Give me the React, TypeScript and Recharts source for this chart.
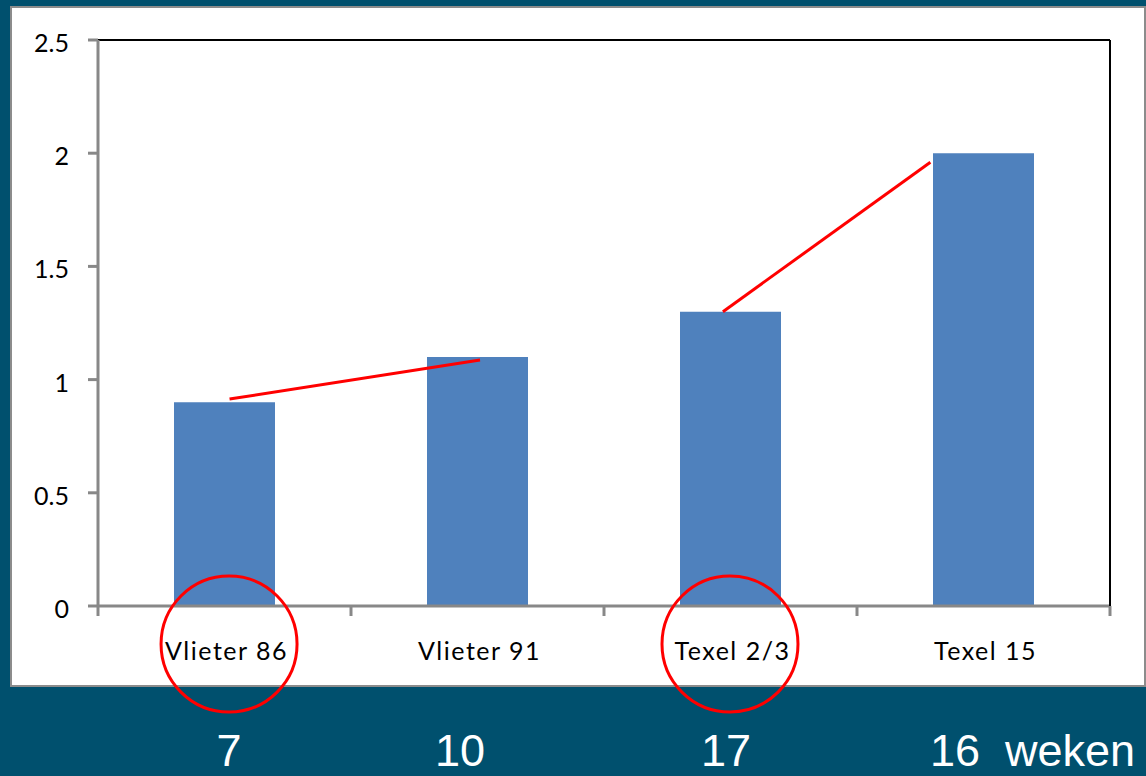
import React from "react"
import { BarChart, Bar, XAxis, YAxis, ReferenceLine, ReferenceDot } from "recharts"

// data
const categories = ["Vlieter 86", "Vlieter 91", "Texel 2/3", "Texel 15"]
const values = [0.9, 1.1, 1.3, 2.0]
const yTicks = [0, 0.5, 1, 1.5, 2, 2.5]
const boundaryTicks = [0, 1, 2, 3, 4]
const weeks = ["7", "10", "17", "16"]
const weekUnit = "weken"

// hand-drawn red annotations (x in category units, y in data units)
const trendSegments = [
  [{ x: 0.52, y: 0.914 }, { x: 1.51, y: 1.087 }],
  [{ x: 2.47, y: 1.3 }, { x: 3.29, y: 1.96 }],
]
const circleCentersX = [0.518, 2.498]
const circleCenterY = -0.168

const data = categories.map((name, i) => ({ name, value: values[i] }))

const W = 1146
const H = 776
const weekLeft = [229, 460, 726, 930]
const TICK_DEPTH = 10 / 226.4 // 10px below the axis, in data units

const YTick = (props: any) => {
  const { x, y, payload } = props
  return (
    <text x={x} y={y} dy={12} textAnchor="end" fill="#000" fontSize={25} fontFamily="Lato, sans-serif">
      {payload.value}
    </text>
  )
}

const XTick = (props: any) => {
  const { x, y, payload } = props
  return (
    <text x={x + 2} y={y + 52} textAnchor="middle" fill="#000" fontSize={25} letterSpacing={1.5} fontFamily="Lato, sans-serif">
      {payload.value}
    </text>
  )
}

export default function App() {
  return (
    <div style={{ position: "absolute", left: 0, top: 0, width: W, height: H, background: "#00506e", overflow: "hidden" }}>
      <div
        style={{
          position: "absolute",
          left: 10,
          top: 6,
          width: 1136,
          height: 681,
          background: "#ffffff",
          border: "2px solid #8c8c8c",
          boxSizing: "border-box",
        }}
      />
      <div style={{ position: "absolute", left: 0, top: 0 }}>
        <BarChart width={W} height={H} data={data} margin={{ top: 40, right: 0, left: 0, bottom: 0 }}>
          <XAxis
            xAxisId="cat"
            dataKey="name"
            height={170}
            tickLine={false}
            axisLine={{ stroke: "#888888", strokeWidth: 3 }}
            tickSize={0}
            tick={<XTick />}
            interval={0}
          />
          <XAxis xAxisId="num" type="number" dataKey="x" domain={[0, 4]} hide allowDataOverflow />
          <YAxis
            domain={[0, 2.5]}
            ticks={yTicks}
            width={98}
            tickSize={10}
            tickMargin={19}
            tick={<YTick />}
            tickLine={{ stroke: "#888888", strokeWidth: 3 }}
            axisLine={{ stroke: "#888888", strokeWidth: 3 }}
          />
          <YAxis
            yAxisId="r"
            orientation="right"
            domain={[0, 2.5]}
            ticks={yTicks}
            width={36}
            tick={false}
            tickLine={false}
            axisLine={{ stroke: "#000000", strokeWidth: 2 }}
          />
          <ReferenceLine xAxisId="cat" y={2.5} stroke="#000000" strokeWidth={2} />
          <Bar xAxisId="cat" dataKey="value" fill="#4f81bd" barSize={101} isAnimationActive={false} />
          {boundaryTicks.map((t) => (
            <ReferenceLine
              key={"t" + t}
              xAxisId="num"
              segment={[{ x: t, y: 0 }, { x: t, y: -TICK_DEPTH }]}
              stroke="#888888"
              strokeWidth={3}
              ifOverflow="visible"
            />
          ))}
          {trendSegments.map((seg, i) => (
            <ReferenceLine
              key={i}
              xAxisId="num"
              segment={seg}
              stroke="#ff0000"
              strokeWidth={3}
              ifOverflow="visible"
            />
          ))}
          {circleCentersX.map((cx) => (
            <ReferenceDot
              key={cx}
              xAxisId="num"
              x={cx}
              y={circleCenterY}
              r={68}
              fill="none"
              stroke="#ff0000"
              strokeWidth={3}
              ifOverflow="visible"
            />
          ))}
        </BarChart>
      </div>
      {weeks.map((w, i) => (
        <span
          key={w + i}
          style={{
            position: "absolute",
            left: weekLeft[i],
            top: 726,
            transform: i < 3 ? "translateX(-50%)" : undefined,
            color: "#ffffff",
            fontFamily: "'Liberation Sans', Arial, sans-serif",
            fontSize: 45,
            lineHeight: "50px",
            whiteSpace: "pre",
          }}
        >
          {i === weeks.length - 1 ? `${w}  ${weekUnit}` : w}
        </span>
      ))}
    </div>
  )
}
